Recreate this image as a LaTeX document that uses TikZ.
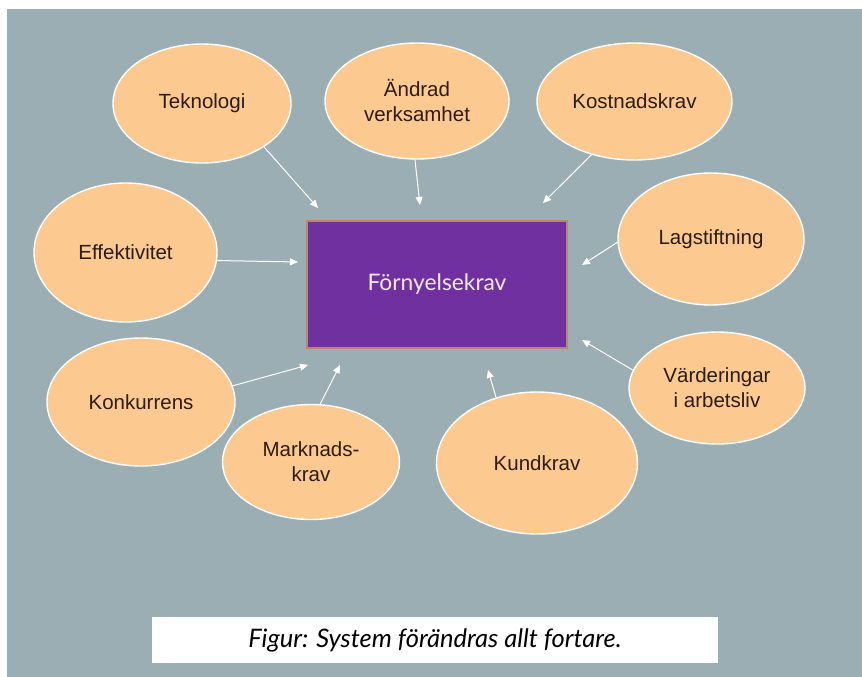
\documentclass[tikz,border=0pt]{standalone}
\usepackage{fontspec}
\setmainfont{Liberation Sans}
\newfontfamily\gillish{Lato}
\usetikzlibrary{shapes.geometric,arrows.meta}
\definecolor{bg}{HTML}{9AAEB3}
\definecolor{peach}{HTML}{FCC990}
\definecolor{plum}{HTML}{7030A0}
\definecolor{rim}{HTML}{B58A6A}
\definecolor{ink}{HTML}{2B1D14}
\definecolor{pale}{HTML}{F2E8F2}

\begin{document}
\begin{tikzpicture}[x=1pt,y=-1pt,
  bubble/.style={ellipse, draw=white, line width=1.4pt, fill=peach, inner sep=0pt,
    text=ink, font=\fontsize{20.5}{25}\selectfont, align=center},
  feed/.style={draw=white, line width=1pt, -{Triangle[length=8pt,width=7pt]}},
  core/.style={rectangle, draw=rim, line width=1.2pt, fill=plum, text=pale,
    font=\gillish\fontsize{22.8}{26}\selectfont, minimum width=260pt, minimum height=127pt},
  caption/.style={rectangle, fill=white, text=black, inner sep=0pt,
    font=\gillish\itshape\fontsize{25.5}{28}\selectfont, minimum width=566pt, minimum height=46pt}
]
% page and backdrop
\fill[white] (0,0) rectangle (862,677);
\fill[bg] (7,9) rectangle (862,677);
\useasboundingbox (0,0) rectangle (862,677);

% central box
\node[core] (core) at (437,284.5) {Förnyelsekrav};

% surrounding drivers
\node[bubble, minimum width=178pt, minimum height=119pt] (tek) at (202,103.5) {Teknologi};
\node[bubble, minimum width=184pt, minimum height=116pt] (and) at (417,101) {Ändrad\\verksamhet};
\node[bubble, minimum width=195pt, minimum height=117pt] (kos) at (634.5,101.5) {Kostnadskrav};
\node[bubble, minimum width=183pt, minimum height=139pt] (eff) at (125.5,252.5) {Effektivitet};
\node[bubble, minimum width=186pt, minimum height=132pt] (lag) at (711,239) {Lagstiftning};
\node[bubble, minimum width=188pt, minimum height=128pt] (kon) at (141,402) {Konkurrens};
\node[bubble, minimum width=176pt, minimum height=112pt] (var) at (717,388) {Värderingar\\i arbetsliv};
\node[bubble, minimum width=177pt, minimum height=115pt] (mar) at (311,462) {Marknads-\\krav};
\node[bubble, minimum width=201pt, minimum height=142pt] (kun) at (537,463) {Kundkrav};

% arrow tips near the central box
\coordinate (tekE) at (318,208);
\coordinate (andE) at (420,205);
\coordinate (kosE) at (543,203);
\coordinate (effE) at (298,262);
\coordinate (lagE) at (582,265);
\coordinate (konE) at (308,365);
\coordinate (marE) at (340,365);
\coordinate (kunE) at (488,370);
\coordinate (varE) at (582,340);

\draw[feed] (tek.-35) -- (tekE);
\draw[feed] (and.-92) -- (andE);
\draw[feed] (kos.-129) -- (kosE);
\draw[feed] (eff.-5) -- (effE);
\draw[feed] (lag.182) -- (lagE);
\draw[feed] (kon.10) -- (konE);
\draw[feed] (mar.81) -- (marE);
\draw[feed] (kun.122) -- (kunE);
\draw[feed] (var.168) -- (varE);

% caption strip
\node[caption] (cap) at (435,640) {Figur: System förändras allt fortare.};
\end{tikzpicture}
\end{document}
